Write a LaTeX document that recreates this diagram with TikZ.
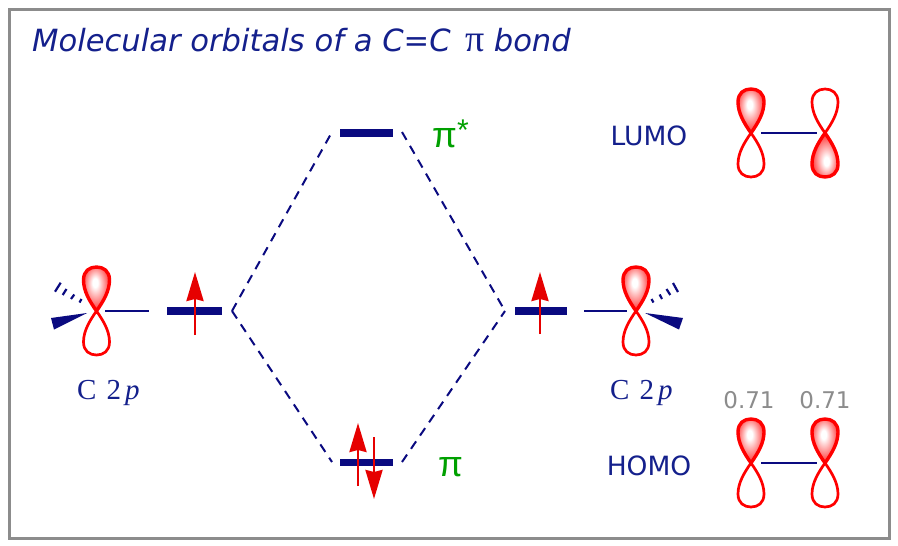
\documentclass[tikz,border=0pt]{standalone}
\usepackage{fontspec}
\setmainfont{DejaVu Sans}
\newfontfamily\lserif{Liberation Serif}
\newfontfamily\lsans{Liberation Sans}
\usetikzlibrary{arrows.meta}
\definecolor{navybar}{HTML}{0A0A80}
\definecolor{navytxt}{HTML}{14208C}
\definecolor{orbred}{HTML}{FF0000}
\definecolor{spinred}{HTML}{E60000}
\definecolor{pigreen}{HTML}{00A000}
\definecolor{framegray}{HTML}{8C8C8C}
\definecolor{numgray}{HTML}{8C8C8C}
\pgfdeclareradialshading{lobeshade}{\pgfpoint{-3bp}{8bp}}{color(0bp)=(white);color(5bp)=(white);color(34bp)=(orbred);color(50bp)=(orbred)}
\tikzset{
  x=1pt,y=-1pt,
  levelbar/.style={fill=navybar,draw=none,rectangle,inner sep=0pt,minimum height=7.5pt},
  levellink/.style={draw=navybar,line width=2pt,dash pattern=on 9pt off 7pt},
  spin/.style={draw=spinred,line width=2.7pt,-{Stealth[length=29pt,width=17pt,inset=2pt,fill=spinred]}},
  bond/.style={draw=navybar,line width=1.7pt},
  hash/.style={draw=navybar,line width=2.2pt},
  wedge/.style={fill=navybar,draw=none},
  mainlabel/.style={text=navytxt,font=\fontsize{26.5}{30}\selectfont,inner sep=0pt},
  clabel/.style={text=navytxt,font=\lserif\fontsize{29}{32}\selectfont,inner sep=0pt},
  numlabel/.style={text=numgray,font=\fontsize{23}{26}\selectfont,inner sep=0pt},
  pilabel/.style={text=pigreen,font=\lsans\fontsize{36}{38}\selectfont,inner sep=0pt},
  lobeline/.style={draw=orbred,line width=2.7pt,line join=round},
  lobefull/.style={draw=orbred,line width=3.4pt,line join=round,shading=lobeshade},
  lobefulldown/.style={lobefull,shading angle=180},
}
% #1 centre x, #2 centre y, #3 direction (-1 up, 1 down), #4 style
\newcommand{\lobepath}[4]{%
  \path[#4] (#1,#2) .. controls ({#1-7},{#2+#3*10}) and ({#1-13},{#2+#3*20}) .. ({#1-13},{#2+#3*31})
    .. controls ({#1-13},{#2+#3*40}) and ({#1-7},{#2+#3*44}) .. (#1,{#2+#3*44})
    .. controls ({#1+7},{#2+#3*44}) and ({#1+13},{#2+#3*40}) .. ({#1+13},{#2+#3*31})
    .. controls ({#1+13},{#2+#3*20}) and ({#1+7},{#2+#3*10}) .. (#1,#2) -- cycle;}
\begin{document}
\begin{tikzpicture}
\useasboundingbox (0,0) rectangle (898,546);
\fill[white] (0,0) rectangle (898,546);
\draw[framegray,line width=3pt] (9.5,9.5) rectangle (889,538);

\node[anchor=base west,text=navytxt,font=\fontsize{30.6}{34}\selectfont\itshape,inner sep=0pt] (title) at (32,52) {Molecular orbitals of a C=C\hspace{15pt}{\lserif\upshape\fontsize{38}{38}\selectfont π}\hspace{9pt}bond};

% levels
\node[levelbar,minimum width=55pt] (lvlL) at (194.5,311) {};
\node[levelbar,minimum width=52pt] (lvlR) at (541,311) {};
\node[levelbar,minimum width=53pt] (lvlT) at (366.5,133) {};
\node[levelbar,minimum width=53pt] (lvlB) at (366.5,462.5) {};

% connectors
\coordinate (jL) at (232,311);
\coordinate (jR) at (505,311);
\coordinate (tL) at (332,132);
\coordinate (tR) at (402,132);
\coordinate (bL) at (332,462);
\coordinate (bR) at (402,462);
\draw[levellink] (jL) -- (tL);
\draw[levellink] (tR) -- (jR);
\draw[levellink] (jL) -- (bL);
\draw[levellink] (bR) -- (jR);

% spins
\coordinate (s1a) at (195,335); \coordinate (s1b) at (195,272);
\coordinate (s2a) at (540,334); \coordinate (s2b) at (540,272);
\coordinate (s3a) at (358,486); \coordinate (s3b) at (358,423);
\coordinate (s4a) at (374,437); \coordinate (s4b) at (374,499);
\draw[spin] (s1a) -- (s1b);
\draw[spin] (s2a) -- (s2b);
\draw[spin] (s3a) -- (s3b);
\draw[spin] (s4a) -- (s4b);

% left C
\coordinate (bl1) at (105,311); \coordinate (bl2) at (149,311);
\draw[bond] (bl1) -- (bl2);
\fill[wedge] (87,313) -- (51,318) -- (54,329.5) -- cycle;
\draw[hash] (81.5,299) -- (79.5,302.5);
\draw[hash] (74.3,294.5) -- (71,299);
\draw[hash] (66.5,289) -- (62.7,295);
\draw[hash] (60.7,282.7) -- (55,291.7);
\lobepath{96.5}{311}{1}{lobeline}
\lobepath{96.5}{311}{-1}{lobefull}

% right C
\coordinate (br1) at (584,311); \coordinate (br2) at (627,311);
\draw[bond] (br1) -- (br2);
\fill[wedge] (645,313) -- (683,318) -- (679,329.5) -- cycle;
\draw[hash] (651.5,299) -- (653.5,302.5);
\draw[hash] (659.7,294.5) -- (662,299);
\draw[hash] (666.5,289) -- (670.3,295);
\draw[hash] (673,283) -- (678,292);
\lobepath{636}{311}{1}{lobeline}
\lobepath{636}{311}{-1}{lobefull}

% LUMO
\coordinate (lu1) at (761,133); \coordinate (lu2) at (817,133);
\draw[bond] (lu1) -- (lu2);
\lobepath{751}{133}{1}{lobeline}
\lobepath{751}{133}{-1}{lobefull}
\lobepath{825}{133}{-1}{lobeline}
\lobepath{825}{133}{1}{lobefulldown}

% HOMO
\coordinate (ho1) at (761,463); \coordinate (ho2) at (817,463);
\draw[bond] (ho1) -- (ho2);
\lobepath{751}{463}{1}{lobeline}
\lobepath{751}{463}{-1}{lobefull}
\lobepath{825}{463}{1}{lobeline}
\lobepath{825}{463}{-1}{lobefull}

% labels
\node[clabel,anchor=base west] (cl) at (77,399) {C\hspace{10pt}2\hspace{4pt}\textit{p}};
\node[clabel,anchor=base west] (cr) at (610,399) {C\hspace{10pt}2\hspace{4pt}\textit{p}};
\node[mainlabel,anchor=base] (lumo) at (649,145) {LUMO};
\node[mainlabel,anchor=base] (homo) at (649,475) {HOMO};
\node[numlabel,anchor=base] (n1) at (749,408) {0.71};
\node[numlabel,anchor=base] (n2) at (825,408) {0.71};
\node[pilabel,anchor=base west] (pistar) at (432,147) {π\raisebox{7pt}{\fontsize{30}{30}\selectfont *}};
\node[pilabel,anchor=base west] (pi) at (438,476) {π};
\end{tikzpicture}
\end{document}
